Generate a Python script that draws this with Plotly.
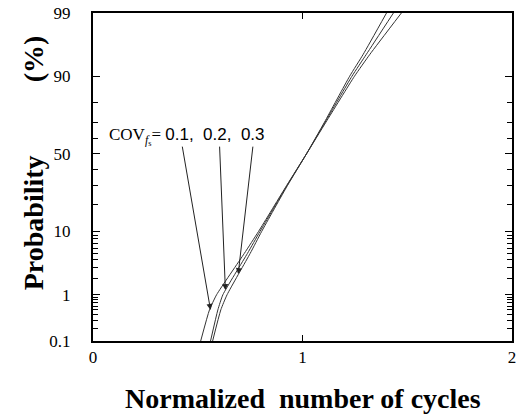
import plotly.graph_objects as go

# probability levels (%) and their standard-normal quantiles (probability-paper axis)
prob_levels = [0.1, 0.5, 1, 5, 10, 30, 50, 70, 90, 95, 99]
z_levels = [-3.090, -2.576, -2.326, -1.645, -1.2816, -0.524, 0.0, 0.524, 1.2816, 1.645, 2.326]

# normalized number of cycles for each COV
cycles_cov01 = [0.571, 0.610, 0.640, 0.750, 0.805, 0.928, 1.019, 1.105, 1.225, 1.290, 1.401]
cycles_cov02 = [0.561, 0.596, 0.620, 0.737, 0.797, 0.926, 1.019, 1.108, 1.236, 1.305, 1.434]
cycles_cov03 = [0.514, 0.556, 0.590, 0.722, 0.790, 0.924, 1.019, 1.112, 1.248, 1.322, 1.472]

# axis ticks
y_tick_labels = ["0.1", "1", "10", "50", "90", "99"]
y_tick_z = [-3.090, -2.326, -1.2816, 0.0, 1.2816, 2.326]
y_minor_z = [-2.878, -2.748, -2.652, -2.576, -2.512, -2.457, -2.409, -2.366,
             -2.054, -1.881, -1.751, -1.645, -1.555, -1.476, -1.405, -1.341,
             -0.8416, -0.524, -0.253, 0.253, 0.524, 0.8416]
x_ticks = [0, 1, 2]
y_range = [-3.090, 2.326]

fig = go.Figure()
for ys in (cycles_cov01, cycles_cov02, cycles_cov03):
    fig.add_trace(go.Scatter(x=ys, y=z_levels, mode="lines",
                             line=dict(color="#333333", width=1, shape="spline", smoothing=0.5),
                             showlegend=False, hoverinfo="skip"))

serif = "Liberation Serif"
tick_font = dict(family=serif, size=17, color="black")

fig.update_layout(
    xaxis=dict(range=[0, 2], tickmode="array", tickvals=x_ticks, ticks="inside", ticklen=6,
               tickwidth=1, tickcolor="black", showline=True, linewidth=2, linecolor="black",
               mirror="ticks", showgrid=False, zeroline=False, tickfont=tick_font,
               ticklabeloverflow="allow"),
    yaxis=dict(range=y_range, tickmode="array", tickvals=y_tick_z, ticktext=[t + "    " for t in y_tick_labels],
               ticks="inside", ticklen=7, tickwidth=1, tickcolor="black", showline=True, linewidth=2,
               linecolor="black", mirror="ticks", showgrid=False, zeroline=False, tickfont=tick_font),
    yaxis2=dict(range=y_range, overlaying="y", side="left", tickmode="array", tickvals=y_minor_z,
                showticklabels=False, ticks="inside", ticklen=5, tickcolor="black", tickwidth=1,
                mirror="ticks", showline=True, linewidth=1, linecolor="black", showgrid=False, zeroline=False),
)
# invisible trace to activate the minor-tick axis
fig.add_trace(go.Scatter(x=[1.0], y=[0.0], yaxis="y2", mode="markers", marker=dict(opacity=0),
                         showlegend=False, hoverinfo="skip"))

# COV label and arrows
arrow_tips_x = [0.561, 0.632, 0.693]
arrow_tips_z = [-2.578, -2.248, -1.984]
arrow_tails_x = [0.425, 0.604, 0.764]
arrow_tail_z = 0.144
for tx, tz, ax in zip(arrow_tips_x, arrow_tips_z, arrow_tails_x):
    fig.add_annotation(x=tx, y=tz, ax=ax, ay=arrow_tail_z, xref="x", yref="y", axref="x", ayref="y",
                       text="", showarrow=True, arrowhead=2, arrowsize=1.2, arrowwidth=1, arrowcolor="#222222")

fig.add_annotation(x=0.066, y=0.29, xref="x", yref="y", xanchor="left", yanchor="middle", showarrow=False,
                   text="COV<sub><i>f</i><sub>s</sub></sub>= <span style='font-family:Liberation Sans'>0.1,  0.2,  0.3</span>",
                   font=dict(family=serif, size=17, color="black"))

# axis titles
fig.add_annotation(x=0.5, y=-0.175, xref="paper", yref="paper", xanchor="center", yanchor="middle",
                   showarrow=False, text="<b>Normalized  number of cycles</b>",
                   font=dict(family=serif, size=28, color="black"))
fig.add_annotation(x=-0.14, y=0.36, xref="paper", yref="paper", xanchor="center", yanchor="middle",
                   showarrow=False, text="<b>Probability</b>", textangle=-90,
                   font=dict(family=serif, size=28, color="black"))
fig.add_annotation(x=-0.14, y=0.86, xref="paper", yref="paper", xanchor="center", yanchor="middle",
                   showarrow=False, text="<b>(%)</b>", textangle=-90,
                   font=dict(family=serif, size=28, color="black"))

fig.update_layout(width=518, height=420, margin=dict(l=93, r=2, t=13, b=79),
                  paper_bgcolor="white", plot_bgcolor="white")

fig.write_html("out.html")
